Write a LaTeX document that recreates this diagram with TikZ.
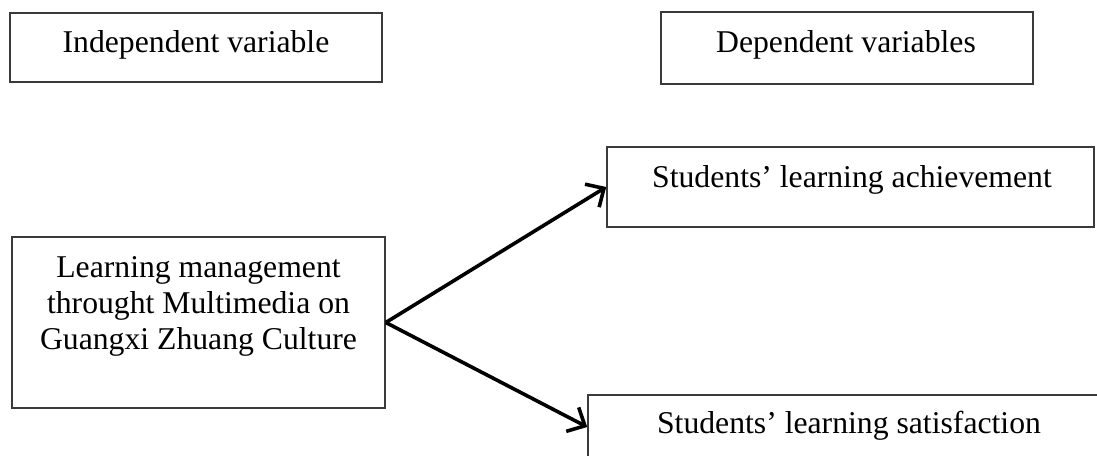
\documentclass[tikz,border=0pt]{standalone}
\usepackage{fontspec}
\setmainfont{Liberation Serif}
\usetikzlibrary{arrows.meta}
\definecolor{boxgray}{HTML}{3A3A3A}
\begin{document}
\begin{tikzpicture}[x=1pt,y=-1pt,
  box/.style={draw=boxgray, line width=1.6pt, rectangle, inner sep=0pt, fill=none},
  lbl/.style={font=\fontsize{31.7}{36}\selectfont, anchor=base, inner sep=0pt, text=black},
  arr/.style={line width=3.6pt, draw=black, -{Straight Barb[length=14pt,width=27pt,line width=3.6pt]}}]
\useasboundingbox (0,0) rectangle (1097,455);
\clip (0,0) rectangle (1097,455);
% boxes
\node[box, minimum width=372pt, minimum height=69pt] (box1) at (196,47.5) {};
\node[box, minimum width=372pt, minimum height=72pt] (box2) at (847,48) {};
\node[box, minimum width=487pt, minimum height=80pt] (box3) at (850.5,187) {};
\node[box, minimum width=373pt, minimum height=171pt] (box4) at (198.5,322.5) {};
\node[box, minimum width=520pt, minimum height=64pt] (box5) at (848,427) {};
% texts
\node[lbl] (t1) at (196,52) {Independent variable};
\node[lbl] (t2) at (846,52) {Dependent variables};
\node[lbl] (t3) at (852,187) {Students’ learning achievement};
\node[lbl] (t4a) at (198.5,277) {Learning management};
\node[lbl] (t4b) at (198.5,313) {throught Multimedia on};
\node[lbl] (t4c) at (198.5,349) {Guangxi Zhuang Culture};
\node[lbl] (t5) at (849,433) {Students’ learning satisfaction};
% arrows
\draw[arr] (box4.east) -- (box3.west);
\draw[arr] (box4.east) -- (box5.west);
\end{tikzpicture}
\end{document}
